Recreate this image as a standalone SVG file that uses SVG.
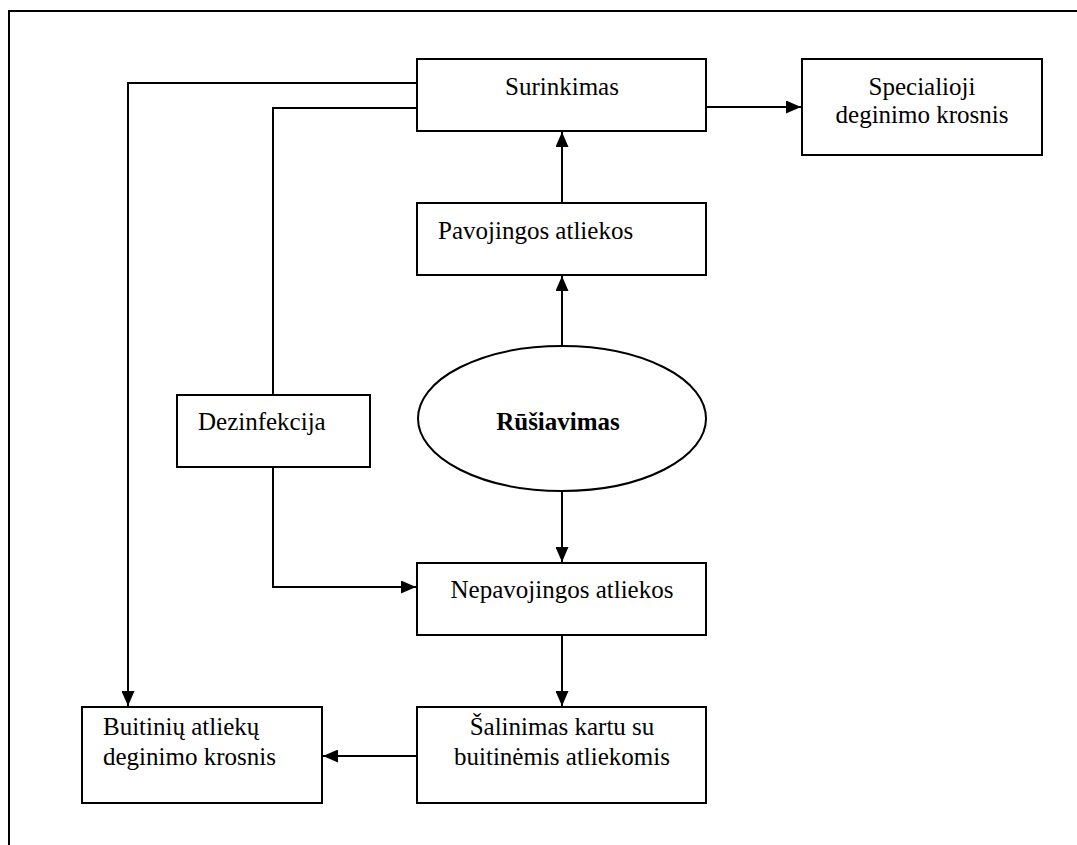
<svg xmlns="http://www.w3.org/2000/svg" width="1077" height="845" viewBox="0 0 1077 845">
<style>
.box{fill:#fff;stroke:#000;stroke-width:2}
.t{font-family:'Liberation Serif','DejaVu Serif','Noto Serif',Georgia,serif;font-size:25px;fill:#000}
.c{text-anchor:middle}
.b{font-weight:bold}
.ln{fill:none;stroke:#000;stroke-width:2}
</style>
<defs>
<marker id="ah" markerWidth="15" markerHeight="13" refX="15" refY="6.5" orient="auto" markerUnits="userSpaceOnUse">
<path d="M0,0 L15,6.5 L0,13 Z" fill="#000"/>
</marker>
</defs>
<rect width="1077" height="845" fill="#fff"/>
<g id="frame">
<path class="ln" d="M9,845 V11 H1077"/>
</g>
<g id="connectors">
<path class="ln" d="M417,83 H128 V706" marker-end="url(#ah)"/>
<path class="ln" d="M417,108 H273 V395"/>
<path class="ln" d="M273,467 V587 H416" marker-end="url(#ah)"/>
<path class="ln" d="M706,107 H801" marker-end="url(#ah)"/>
<path class="ln" d="M562,203 V132" marker-end="url(#ah)"/>
<path class="ln" d="M562,346 V276" marker-end="url(#ah)"/>
<path class="ln" d="M562,491 V562" marker-end="url(#ah)"/>
<path class="ln" d="M562,635 V706" marker-end="url(#ah)"/>
<path class="ln" d="M417,756 H323" marker-end="url(#ah)"/>
</g>
<g id="surinkimas">
<rect class="box" x="417" y="59" width="289" height="72"/>
<text class="t c" x="562" y="95">Surinkimas</text>
</g>
<g id="specialioji">
<rect class="box" x="802" y="59" width="240" height="96"/>
<text class="t c" x="922" y="95">Specialioji</text>
<text class="t c" x="922" y="123">deginimo krosnis</text>
</g>
<g id="pavojingos">
<rect class="box" x="417" y="203" width="289" height="72"/>
<text class="t" x="438" y="239">Pavojingos atliekos</text>
</g>
<g id="rusiavimas">
<ellipse class="box" cx="562" cy="418.5" rx="144" ry="72.5"/>
<text class="t c b" x="558" y="430">Rūšiavimas</text>
</g>
<g id="dezinfekcija">
<rect class="box" x="177" y="395" width="193" height="72"/>
<text class="t" x="198" y="430">Dezinfekcija</text>
</g>
<g id="nepavojingos">
<rect class="box" x="417" y="563" width="289" height="72"/>
<text class="t c" x="562" y="598">Nepavojingos atliekos</text>
</g>
<g id="buitiniu">
<rect class="box" x="82" y="707" width="240" height="96"/>
<text class="t" x="103" y="735">Buitinių atliekų</text>
<text class="t" x="103" y="765">deginimo krosnis</text>
</g>
<g id="salinimas">
<rect class="box" x="417" y="707" width="289" height="96"/>
<text class="t c" x="562" y="735">Šalinimas kartu su</text>
<text class="t c" x="562" y="765">buitinėmis atliekomis</text>
</g>
</svg>
